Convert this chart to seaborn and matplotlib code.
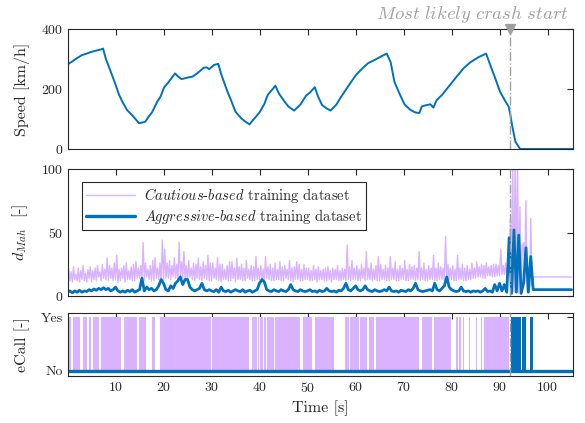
import numpy as np
import matplotlib
matplotlib.use("Agg")
import matplotlib.pyplot as plt
import seaborn as sns
import pandas as pd

# ---------------- data ----------------
speed_t = [0, 1, 2, 3, 4, 5, 6, 7, 7.4, 8, 9, 10, 10.7, 11.5, 12.4, 13.5, 14.9, 15.5, 16.2, 17, 17.6,
           18.7, 19.4, 20.1, 21, 22.4, 23, 23.75, 25, 26, 27, 28.4, 29, 29.5, 30.5, 31.4, 32, 33.3, 34, 35,
           36.2, 37, 37.9, 39, 40, 41, 41.7, 43.3, 44, 45.2, 46, 47.2, 48.5, 49.7, 50.5, 51.5, 52.2, 53, 54,
           54.8, 56, 57, 58.5, 60.1, 61.5, 62.6, 64, 65.5, 66.5, 67.3, 68.1, 69, 70.2, 71.3, 72.4, 73.3,
           73.8, 74.7, 75.6, 76.2, 76.9, 78, 79.4, 81, 82.5, 84, 85.5, 87.2, 88.2, 89, 90.1, 91, 91.9, 92.3,
           92.6, 93.3, 94.3, 105.3]
speed_v = [282, 292, 303, 313, 318, 324, 328, 332, 335, 300, 258, 215, 182, 155, 130, 112, 86, 88, 91, 110, 122,
           158, 175, 205, 222, 252, 242, 233, 238, 241, 252, 271, 272, 266, 280, 284, 250, 192, 165, 124,
           102, 92, 82, 103, 122, 150, 180, 211, 186, 158, 142, 128, 148, 178, 188, 206, 175, 147, 135,
           128, 148, 174, 210, 247, 270, 286, 297, 310, 318, 290, 224, 190, 149, 132, 122, 120,
           142, 146, 149, 138, 163, 180, 208, 240, 269, 290, 305, 318, 274, 240, 191, 165, 141, 110,
           80, 24, 0, 0]

# Cautious d_Mah sampled every 0.25 s from 0 to 105 s (one row per second)
cautious_dmah = [
    14, 21, 12, 19,   11, 23, 13, 17,   12, 22, 11, 20,   13, 24, 12, 18,   11, 21, 14, 23,
    11, 20, 13, 22,   12, 24, 15, 19,   12, 25, 14, 21,   13, 30, 12, 24,   14, 22, 12, 26,
    13, 32, 11, 21,   12, 22, 14, 24,   11, 26, 13, 20,   13, 23, 12, 25,   12, 27, 14, 22,
    14, 24, 12, 42,   12, 26, 15, 21,   13, 24, 12, 28,   12, 30, 14, 22,   13, 26, 12, 44,
    12, 37, 14, 26,   14, 28, 13, 24,   15, 30, 14, 25,   13, 42, 15, 27,   14, 35, 13, 24,
    12, 28, 15, 22,   13, 26, 12, 25,   14, 30, 13, 23,   12, 27, 14, 24,   13, 32, 12, 26,
    12, 26, 14, 22,   13, 30, 12, 25,   11, 25, 13, 21,   13, 24, 12, 27,   12, 27, 14, 22,
    11, 30, 13, 23,   13, 25, 12, 22,   12, 28, 14, 21,   13, 24, 12, 23,   12, 31, 13, 22,
    13, 24, 12, 21,   11, 31, 14, 23,   13, 25, 12, 22,   12, 26, 13, 21,   13, 27, 12, 23,
    12, 24, 14, 21,   13, 28, 12, 22,   11, 23, 13, 27,   13, 25, 12, 21,   12, 25, 13, 22,
    13, 22, 12, 20,   12, 24, 13, 21,   11, 23, 13, 20,   13, 21, 12, 22,   12, 23, 13, 20,
    11, 22, 13, 21,   13, 24, 12, 20,   12, 22, 13, 21,   12, 40, 13, 23,   12, 28, 13, 22,
    13, 24, 12, 21,   12, 25, 14, 22,   12, 35, 13, 22,   13, 26, 12, 21,   13, 24, 12, 31,
    12, 25, 13, 21,   13, 24, 12, 22,   12, 31, 13, 22,   13, 27, 12, 21,   12, 24, 13, 22,
    13, 28, 12, 21,   12, 25, 13, 23,   13, 24, 12, 22,   13, 35, 12, 22,   13, 26, 12, 21,
    12, 24, 13, 22,   13, 32, 12, 22,   12, 26, 13, 23,   13, 22, 12, 47,   12, 25, 13, 22,
    13, 24, 12, 21,   12, 32, 13, 22,   13, 25, 12, 22,   12, 24, 13, 21,   13, 26, 14, 22,
    14, 27, 15, 23,   15, 25, 14, 24,   14, 26, 16, 23,   16, 24, 15, 25,   15, 25, 16, 24,
    16, 37, 17, 24,   17, 26, 16, 25,   18, 60, 30, 105,  3, 105, 20, 105,  2, 70, 5, 40,
    42, 10, 75, 3,    20, 4, 61, 8,     15, 15, 15, 15,   15, 15, 15, 15,   15, 15, 15, 15,
    15, 15, 15, 15,   15, 15, 15, 15,   15, 15, 15, 15,   15, 15, 15, 15,   15, 15, 15, 15,
    15]

# Aggressive d_Mah sampled every 0.5 s from 0 to 105 s
aggressive_dmah = [
    3, 4, 2.5, 4, 3, 4.5, 3, 4, 3.5, 5,
    4, 5.5, 4.5, 6, 5, 6.5, 5, 6, 4, 5,
    7, 4, 3, 4, 3, 4.5, 3.5, 5, 3, 4,
    5, 14, 4, 7, 5, 6, 4, 5, 8, 13,
    10, 5, 4, 8, 6, 10, 12, 15, 9, 13,
    13, 7, 5, 4, 5, 6, 10, 5, 4, 5,
    4, 3.5, 5, 3, 7, 4, 3.5, 4.5, 3, 4,
    5, 4, 3.5, 5, 3, 4, 4.5, 3, 4, 5,
    10, 13, 11, 5, 4, 3.5, 5, 4, 3.5, 5,
    4, 3.5, 5, 9, 5, 4, 3.5, 5, 4, 3.5,
    4, 5, 3.5, 4, 3, 4.5, 3.5, 4, 6, 4,
    3.5, 4, 3, 4.5, 4, 6, 10, 5, 4, 6,
    8, 5, 4, 5, 8, 5, 4, 3.5, 5, 4,
    3.5, 4, 5, 4, 7, 4, 3.5, 4, 3, 4.5,
    4, 3.5, 5, 4, 6, 10, 5, 4, 3.5, 4,
    4.5, 5, 4, 10, 5, 4, 6, 8, 15, 7,
    5, 4, 3.5, 4, 7, 4, 3.5, 4, 3, 4,
    3.5, 4, 3, 4, 6, 3.5, 4, 3, 9, 4,
    10, 4, 9, 3, 46, 2, 52, 3, 48, 2,
    10, 38, 3, 31, 5, 5, 5, 5, 5, 5,
    5, 5, 5, 5, 5, 5, 5, 5, 5, 5,
    5]
cautious_t = [0.25 * i for i in range(len(cautious_dmah))]
aggressive_t = [0.5 * i for i in range(len(aggressive_dmah))]

# eCall "Yes" intervals [start, end] in seconds
cautious_ecall_on = [(0.2, 0.8), (1.1, 2.7), (3.3, 4.0), (4.4, 4.9), (5.4, 6.5), (7.0, 11.2), (11.7, 14.4),
                     (14.9, 16.4), (17.6, 18.3), (19.3, 29.9), (30.1, 37.9), (38.5, 39.4), (39.6, 39.9),
                     (40.1, 40.7), (40.9, 41.3), (41.6, 43.0), (43.3, 48.5), (49.0, 51.0), (51.5, 55.6),
                     (57.7, 58.6), (58.9, 60.7), (61.0, 62.4), (62.9, 63.8), (64.3, 73.3), (73.8, 76.0),
                     (76.3, 79.9), (81.0, 81.3), (81.6, 82.0), (82.4, 82.6), (83.7, 83.9), (85.1, 85.3),
                     (86.2, 86.4), (86.8, 91.9)]
aggressive_ecall_on = [(92.3, 94.4), (94.6, 95.6), (96.3, 97.0)]

crash_t = 92.1
x_ticks = [10, 20, 30, 40, 50, 60, 70, 80, 90, 100]
speed_ticks = [0, 200, 400]
dmah_ticks = [0, 50, 100]
ecall_ticks = [0, 1]
ecall_labels = ["No", "Yes"]

# ---------------- style ----------------
sns.set_style("white")
plt.rcParams["font.family"] = ["cmr10", "DejaVu Serif"]
plt.rcParams["mathtext.fontset"] = "cm"
plt.rcParams["axes.formatter.use_mathtext"] = True
plt.rcParams["axes.unicode_minus"] = False

BLUE = "#0072BD"
LAV = "#D9B3FF"
GRAY = "#A0A0A0"
AX = "#262626"

fig = plt.figure(figsize=(5.85, 4.23), dpi=100)
L, W = 68 / 585, 505 / 585
ax1 = fig.add_axes([L, 1 - 149 / 423, W, 120 / 423])
ax2 = fig.add_axes([L, 1 - 296 / 423, W, 127 / 423])
ax3 = fig.add_axes([L, 1 - 376 / 423, W, 63 / 423])

xlim = (0.1, 105.3)

# Speed
sns.lineplot(x=speed_t, y=speed_v, ax=ax1, color=BLUE, linewidth=1.4, estimator=None, sort=False)
ax1.set_ylim(0, 400)
ax1.set_yticks(speed_ticks)
ax1.set_ylabel("Speed [km/h]")

# d_Mah
sns.lineplot(x=cautious_t, y=cautious_dmah, ax=ax2, color=LAV, linewidth=1.0, estimator=None, sort=False,
             label=r"$\mathit{Cautious}$-$\mathit{based}$ training dataset")
sns.lineplot(x=aggressive_t, y=aggressive_dmah, ax=ax2, color=BLUE, linewidth=2.0, estimator=None,
             sort=False, label=r"$\mathit{Aggressive}$-$\mathit{based}$ training dataset")
ax2.set_ylim(0, 100)
ax2.set_yticks(dmah_ticks)
ax2.set_ylabel(r"$d_{Mah}$  [-]")
leg = ax2.legend(loc="upper left", bbox_to_anchor=(0.028, 0.895), borderaxespad=0, fontsize=10.5,
                 frameon=True, fancybox=False, edgecolor=AX, framealpha=1, handlelength=3.4,
                 borderpad=0.25, labelspacing=0.15, handletextpad=0.6)
leg.get_frame().set_linewidth(0.8)
leg.get_lines()[0].set_linewidth(1.0)
leg.get_lines()[1].set_linewidth(2.4)

# eCall
for a, b in cautious_ecall_on:
    ax3.fill_between([a, b], 0, 1, color=LAV, linewidth=0)
for a, b in aggressive_ecall_on:
    ax3.fill_between([a, b], 0, 1, color=BLUE, linewidth=0)
sns.lineplot(x=[xlim[0], xlim[1]], y=[0, 0], ax=ax3, color=BLUE, linewidth=2.4)
ax3.set_ylim(-0.1, 1.08)
ax3.set_yticks(ecall_ticks)
ax3.set_yticklabels(ecall_labels)
ax3.set_ylabel("eCall [-]")
ax3.set_xlabel("Time [s]", fontsize=11.5)

for ax in (ax1, ax2, ax3):
    ax.set_xlim(*xlim)
    ax.set_xticks(x_ticks)
    ax.axvline(crash_t, color=GRAY, linestyle="-.", linewidth=1.0, zorder=5)
    ax.tick_params(direction="in", top=True, right=True, length=4, width=0.8, colors=AX,
                   labelsize=10, labelcolor=AX)
    for s in ax.spines.values():
        s.set_color(AX)
        s.set_linewidth(0.8)
    ax.yaxis.label.set_size(11.5)
    ax.yaxis.label.set_color(AX)
    ax.yaxis.set_label_coords(-0.075, 0.5)
    if ax is not ax3:
        ax.set_xlabel("")
        ax.tick_params(labelbottom=False)
ax3.xaxis.label.set_color(AX)

# crash marker & annotation
ax1.plot([crash_t], [400], marker="v", color=GRAY, markersize=7, clip_on=False, zorder=6)
ax1.text(104.3, 447, r"$\mathit{Most\ likely\ crash\ start}$", ha="right", va="center",
         color=GRAY, fontsize=13.5, clip_on=False)

fig.savefig("out.png", dpi=100)
